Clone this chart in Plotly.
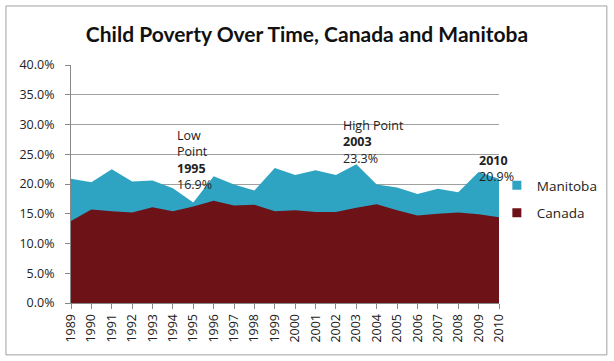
import plotly.graph_objects as go

years = list(range(1989, 2011))
manitoba = [20.9, 20.3, 22.5, 20.4, 20.6, 19.3, 16.9, 21.3, 19.9, 18.9, 22.7,
            21.5, 22.3, 21.5, 23.3, 19.9, 19.4, 18.3, 19.2, 18.6, 22.0, 20.9]
canada = [13.8, 15.7, 15.4, 15.2, 16.1, 15.4, 16.2, 17.2, 16.4, 16.5, 15.4,
          15.6, 15.3, 15.3, 16.0, 16.6, 15.6, 14.7, 15.0, 15.2, 14.9, 14.4]
y_ticks = [0, 5, 10, 15, 20, 25, 30, 35, 40]

FONT = "Open Sans"
TFONT = "Lato"
MB_COLOR = "#2EA4C2"
CA_COLOR = "#6D1217"

fig = go.Figure()
fig.add_trace(go.Scatter(x=years, y=manitoba, name="Manitoba", mode="none",
                         fill="tozeroy", fillcolor=MB_COLOR, showlegend=False))
fig.add_trace(go.Scatter(x=years, y=canada, name="Canada", mode="none",
                         fill="tozeroy", fillcolor=CA_COLOR, showlegend=False))
# legend entries (square swatches like the reference)
fig.add_trace(go.Scatter(x=[None], y=[None], name="Manitoba", mode="markers",
                         marker=dict(symbol="square", size=9, color=MB_COLOR),
                         legendgroup="mb"))
fig.add_trace(go.Scatter(x=[None], y=[None], name="Canada", mode="markers",
                         marker=dict(symbol="square", size=9, color=CA_COLOR),
                         legendgroup="ca"))

fig.update_layout(
    width=614, height=361,
    margin=dict(l=71, r=115, t=65, b=58, autoexpand=False),
    paper_bgcolor="white", plot_bgcolor="white",
    font=dict(family=FONT, size=12, color="#222"),
    title=dict(text="<b>Child Poverty Over Time, Canada and Manitoba</b>",
               x=0.5, xanchor="center", y=0.905, yanchor="middle",
               font=dict(family=TFONT, size=21, color="#111")),
    showlegend=True,
    legend=dict(x=0.995, y=0.435, xanchor="left", yanchor="middle",
                font=dict(family=FONT, size=13.5, color="#222"),
                bgcolor="rgba(0,0,0,0)", traceorder="grouped",
                tracegroupgap=7, itemwidth=30),
    xaxis=dict(range=[1989, 2010], tickmode="array", tickvals=years,
               ticktext=[str(y) for y in years], tickangle=-90,
               showgrid=False, showline=True, linecolor="#888", linewidth=1,
               ticks="outside", ticklen=5, tickcolor="#888",
               tickfont=dict(family=FONT, size=12.5, color="#222"), zeroline=False),
    yaxis=dict(range=[0, 40], tickmode="array", tickvals=y_ticks,
               ticktext=[f"{v:.1f}%" for v in y_ticks],
               showgrid=True, gridcolor="#A0A0A0", gridwidth=1,
               showline=True, linecolor="#888", linewidth=1,
               ticks="outside", ticklen=5, tickcolor="#888", ticklabelstandoff=8,
               tickfont=dict(family=FONT, size=12.5, color="#222"), zeroline=False),
)

ann_font = dict(family=FONT, size=12.5, color="#222")
fig.add_annotation(x=1994.1, y=29.9, xref="x", yref="y", xanchor="left", yanchor="top",
                   align="left", showarrow=False, font=ann_font,
                   text="Low<br>Point<br><b>1995</b><br>16.9%")
fig.add_annotation(x=2002.25, y=31.6, xref="x", yref="y", xanchor="left", yanchor="top",
                   align="left", showarrow=False, font=ann_font,
                   text="High Point<br><b>2003</b><br>23.3%")
fig.add_annotation(x=2008.9, y=25.7, xref="x", yref="y", xanchor="left", yanchor="top",
                   align="left", showarrow=False, font=ann_font,
                   text="<b>2010</b><br>20.9%")

fig.add_shape(type="rect", xref="paper", yref="paper",
              x0=-0.152, x1=1.252, y0=-0.218, y1=1.248,
              line=dict(color="#A0A0A0", width=1), fillcolor="rgba(0,0,0,0)")

fig.write_html("out.html", config={"displayModeBar": False},
               post_script="document.body.style.margin='0';document.body.style.overflow='hidden';")
